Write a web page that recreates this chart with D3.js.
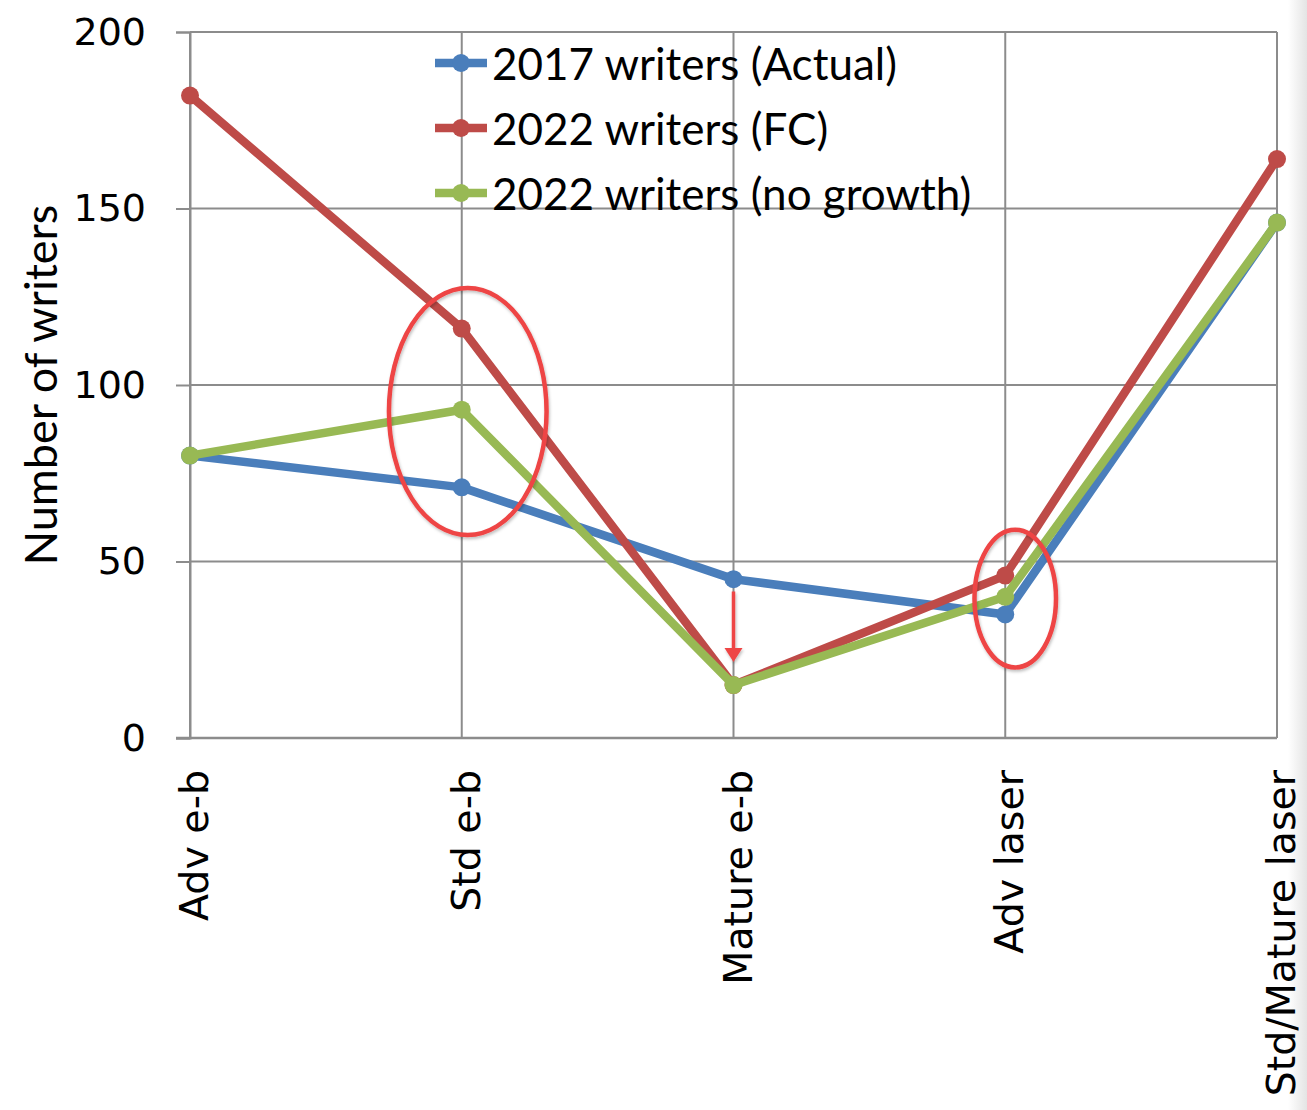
<!DOCTYPE html>
<html>
<head>
<meta charset="utf-8">
<script src="https://cdn.jsdelivr.net/npm/d3@7"></script>
<style>
  html, body { margin: 0; padding: 0; background: #fff; }
  svg { display: block; }
</style>
</head>
<body>
<svg id="chart" width="1307" height="1110"></svg>
<script>
const categories = ["Adv e-b", "Std e-b", "Mature e-b", "Adv laser", "Std/Mature laser"];
const actual2017 = [80, 71, 45, 35, 146];
const fc2022 = [182, 116, 15, 46, 164];
const noGrowth2022 = [80, 93, 15, 40, 146];
const seriesNames = ["2017 writers (Actual)", "2022 writers (FC)", "2022 writers (no growth)"];
const seriesColors = ["#4A7EBB", "#BE4B48", "#98B954"];
const yTicks = [0, 50, 100, 150, 200];

const series = [
  { name: seriesNames[0], values: actual2017, color: seriesColors[0] },
  { name: seriesNames[1], values: fc2022, color: seriesColors[1] },
  { name: seriesNames[2], values: noGrowth2022, color: seriesColors[2] }
];

const svg = d3.select("#chart");
const W = 1307, H = 1110;
const m = { left: 190, right: 1277, top: 32, bottom: 738 };

// right-edge shadow
const defs = svg.append("defs");
const grad = defs.append("linearGradient").attr("id", "shadow").attr("x1", 0).attr("x2", 1).attr("y1", 0).attr("y2", 0);
grad.append("stop").attr("offset", "0%").attr("stop-color", "#ffffff");
grad.append("stop").attr("offset", "100%").attr("stop-color", "#e4e4e4");
svg.append("rect").attr("x", 1288).attr("y", 0).attr("width", 19).attr("height", H).attr("fill", "url(#shadow)");

const filt = defs.append("filter").attr("id", "soft").attr("x", "-20%").attr("y", "-20%").attr("width", "140%").attr("height", "140%");
filt.append("feDropShadow").attr("dx", 1).attr("dy", 2).attr("stdDeviation", 1.5).attr("flood-color", "#000").attr("flood-opacity", 0.25);

const x = d3.scalePoint().domain(categories).range([m.left, m.right]);
const y = d3.scaleLinear().domain([0, 200]).range([m.bottom, m.top]);

const gridColor = "#8c8c8c";

// horizontal gridlines
svg.append("g").selectAll("line").data(yTicks.filter(d => d > 0)).join("line")
  .attr("x1", m.left).attr("x2", m.right)
  .attr("y1", d => y(d)).attr("y2", d => y(d))
  .attr("stroke", gridColor).attr("stroke-width", 2);

// vertical gridlines
svg.append("g").selectAll("line").data(categories).join("line")
  .attr("x1", d => x(d)).attr("x2", d => x(d))
  .attr("y1", m.top).attr("y2", m.bottom)
  .attr("stroke", gridColor).attr("stroke-width", 2);

// y axis
const yAxis = d3.axisLeft(y).tickValues(yTicks).tickSize(14).tickPadding(30);
const gy = svg.append("g").attr("transform", `translate(${m.left},0)`).call(yAxis);
gy.select(".domain").attr("stroke", gridColor).attr("stroke-width", 2);
gy.selectAll(".tick line").attr("stroke", gridColor).attr("stroke-width", 2);
gy.selectAll(".tick text").attr("font-family", "DejaVu Sans").attr("font-size", 38).attr("fill", "#000");

// x axis line
svg.append("line").attr("x1", m.left - 14).attr("x2", m.right)
  .attr("y1", m.bottom).attr("y2", m.bottom)
  .attr("stroke", gridColor).attr("stroke-width", 2.5);

// x labels
svg.append("g").selectAll("text").data(categories).join("text")
  .attr("transform", d => `translate(${x(d) + 4},${m.bottom + 32}) rotate(-90)`)
  .attr("text-anchor", "end")
  .attr("dominant-baseline", "central")
  .attr("font-family", "DejaVu Sans").attr("font-size", 39.5).attr("fill", "#000")
  .text(d => d);

// y title
svg.append("text")
  .attr("transform", `translate(40,${(m.top + m.bottom) / 2}) rotate(-90)`)
  .attr("text-anchor", "middle").attr("dominant-baseline", "central")
  .attr("font-family", "Lato").attr("font-size", 45).attr("fill", "#000")
  .text("Number of writers");

// lines
const line = d3.line().x((d, i) => x(categories[i])).y(d => y(d));
const gs = svg.append("g").selectAll("g").data(series).join("g");
gs.append("path").attr("d", d => line(d.values))
  .attr("fill", "none").attr("stroke", d => d.color).attr("stroke-width", 8.5)
  .attr("stroke-linejoin", "round");
gs.selectAll("circle").data(d => d.values.map((v, i) => ({ v, i, color: d.color }))).join("circle")
  .attr("cx", d => x(categories[d.i])).attr("cy", d => y(d.v)).attr("r", 9)
  .attr("fill", d => d.color);

// legend
const legend = svg.append("g");
const lx0 = 435, lx1 = 487, ly0 = 63, ldy = 65;
series.forEach((s, i) => {
  const ly = ly0 + i * ldy;
  legend.append("line").attr("x1", lx0).attr("x2", lx1).attr("y1", ly).attr("y2", ly)
    .attr("stroke", s.color).attr("stroke-width", 8.5);
  legend.append("circle").attr("cx", (lx0 + lx1) / 2).attr("cy", ly).attr("r", 9).attr("fill", s.color);
  legend.append("text").attr("x", 492).attr("y", ly).attr("dominant-baseline", "central")
    .attr("font-family", "Lato").attr("font-size", 44).attr("fill", "#000")
    .text(s.name);
});

// annotations (positioned via scales)
const annColor = "#EE4444";
const ann = svg.append("g").attr("filter", "url(#soft)");
const stepX = x.step();
ann.append("ellipse")
  .attr("cx", x("Std e-b") + 6).attr("cy", y(92.5))
  .attr("rx", stepX * 0.29).attr("ry", (y(0) - y(35)))
  .attr("fill", "none").attr("stroke", annColor).attr("stroke-width", 4.5);
ann.append("ellipse")
  .attr("cx", x("Adv laser") + 10).attr("cy", y(39.5))
  .attr("rx", stepX * 0.15).attr("ry", (y(0) - y(19.5)))
  .attr("fill", "none").attr("stroke", annColor).attr("stroke-width", 4.5);
// arrow
const ax = x("Mature e-b");
const ay1 = y(41.5), ay2 = y(21.5);
ann.append("line").attr("x1", ax).attr("x2", ax).attr("y1", ay1).attr("y2", ay2 - 12)
  .attr("stroke", annColor).attr("stroke-width", 3.5);
ann.append("path")
  .attr("d", `M${ax - 9},${ay2 - 14} L${ax + 9},${ay2 - 14} L${ax},${ay2} Z`)
  .attr("fill", annColor);
</script>
</body>
</html>
